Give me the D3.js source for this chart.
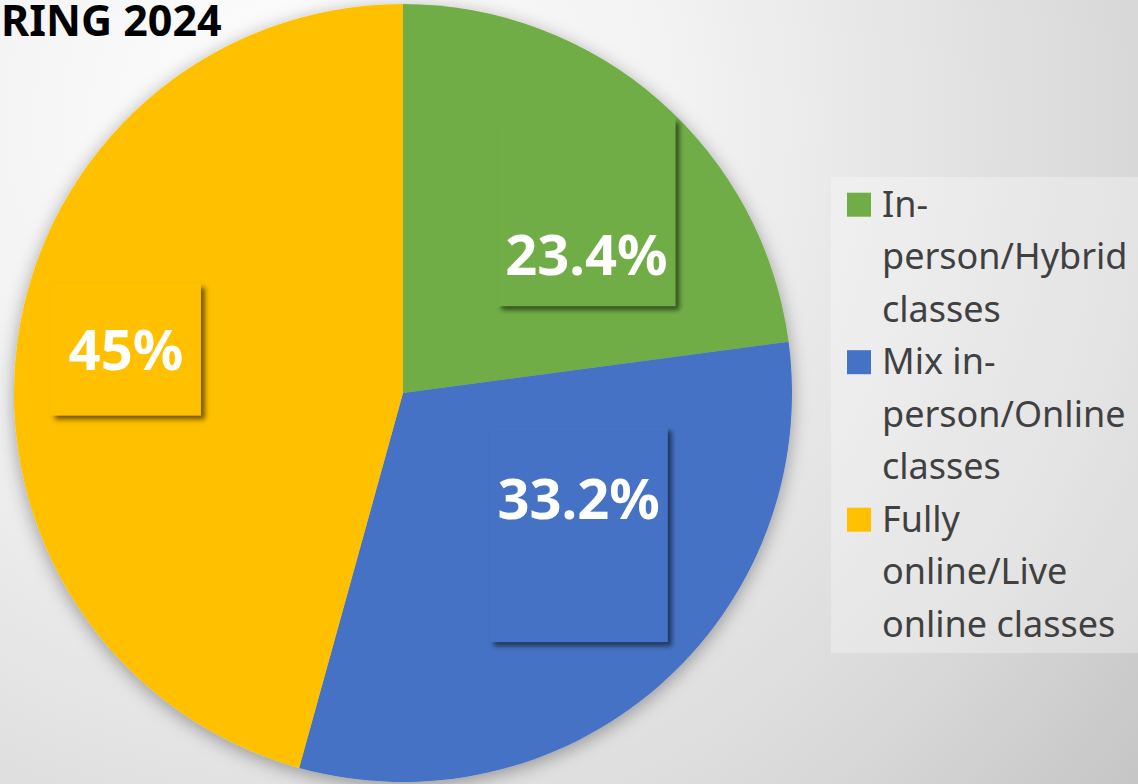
<!DOCTYPE html>
<html>
<head>
<meta charset="utf-8">
<script src="https://cdn.jsdelivr.net/npm/d3@7"></script>
<style>
  html, body { margin: 0; padding: 0; overflow: hidden; }
  svg { display: block; }
</style>
</head>
<body>
<svg id="chart" width="1138" height="784"></svg>
<script>
// data
const categories = ["In-person/Hybrid classes", "Mix in-person/Online classes", "Fully online/Live online classes"];
const legendLines = [["In-", "person/Hybrid", "classes"], ["Mix in-", "person/Online", "classes"], ["Fully", "online/Live", "online classes"]];
const sliceShares = [22.9, 31.4, 45.7];           // share of the circle measured from slice angles
const labelTexts = ["23.4%", "33.2%", "45%"];     // data labels as printed
const colors = ["#70ad47", "#4472c4", "#ffc000"];
const title = "RING 2024";                        // visible part of the title

// layout of the (hand-placed) label boxes, relative to the slice centroid
const labelLayout = [
  { dx: 9, dy: 18, w: 178, h: 188, ty: 63 },
  { dx: 2, dy: -58, w: 178, h: 215, ty: -16 },
  { dx: -15, dy: -8, w: 150, h: 132, ty: 21 }
];

const width = 1138, height = 784;
const cx = 403, cy = 393, radius = 389;

const svg = d3.select("#chart");
const defs = svg.append("defs");

const bg = defs.append("radialGradient")
  .attr("id", "bg")
  .attr("gradientUnits", "userSpaceOnUse")
  .attr("cx", 300).attr("cy", 120).attr("r", 1100);
bg.append("stop").attr("offset", 0).attr("stop-color", "#fefefe");
bg.append("stop").attr("offset", 0.35).attr("stop-color", "#f2f2f2");
bg.append("stop").attr("offset", 0.75).attr("stop-color", "#d9d9d9");
bg.append("stop").attr("offset", 1).attr("stop-color", "#c3c3c3");

const pieShadow = defs.append("filter").attr("id", "pieShadow")
  .attr("x", "-10%").attr("y", "-10%").attr("width", "120%").attr("height", "120%");
pieShadow.append("feDropShadow")
  .attr("dx", 0).attr("dy", 4).attr("stdDeviation", 9)
  .attr("flood-color", "#000").attr("flood-opacity", 0.35);

const boxShadow = defs.append("filter").attr("id", "boxShadow")
  .attr("x", "-10%").attr("y", "-10%").attr("width", "130%").attr("height", "130%");
boxShadow.append("feDropShadow")
  .attr("dx", 4).attr("dy", 4).attr("stdDeviation", 2.5)
  .attr("flood-color", "#000").attr("flood-opacity", 0.55);

svg.append("rect").attr("width", width).attr("height", height).attr("fill", "url(#bg)");

svg.append("text")
  .attr("x", 1).attr("y", 36)
  .attr("font-family", "'Noto Sans', sans-serif")
  .attr("font-weight", "bold")
  .attr("font-size", 43)
  .attr("fill", "#000")
  .text(title);

const pie = d3.pie().sort(null).value(d => d);
const arcs = pie(sliceShares);
const arc = d3.arc().innerRadius(0).outerRadius(radius);
const labelArc = d3.arc().innerRadius(radius * 0.68).outerRadius(radius * 0.68);

const g = svg.append("g").attr("transform", `translate(${cx},${cy})`);

g.append("g").attr("filter", "url(#pieShadow)")
  .selectAll("path")
  .data(arcs)
  .join("path")
  .attr("d", arc)
  .attr("fill", (d, i) => colors[i]);

const labels = g.selectAll("g.label")
  .data(arcs)
  .join("g")
  .attr("class", "label")
  .attr("transform", (d, i) => {
    const c = labelArc.centroid(d);
    return `translate(${c[0] + labelLayout[i].dx},${c[1] + labelLayout[i].dy})`;
  });

labels.append("rect")
  .attr("x", (d, i) => -labelLayout[i].w / 2)
  .attr("y", (d, i) => -labelLayout[i].h / 2)
  .attr("width", (d, i) => labelLayout[i].w)
  .attr("height", (d, i) => labelLayout[i].h)
  .attr("fill", (d, i) => colors[i])
  .attr("filter", "url(#boxShadow)");

labels.append("text")
  .attr("y", (d, i) => labelLayout[i].ty)
  .attr("text-anchor", "middle")
  .attr("font-family", "'Noto Sans', sans-serif")
  .attr("font-weight", "bold")
  .attr("font-size", 56)
  .attr("fill", "#fff")
  .text((d, i) => labelTexts[i]);

// legend
const legend = svg.append("g");
legend.append("rect")
  .attr("x", 831).attr("y", 177)
  .attr("width", width - 831).attr("height", 476)
  .attr("fill", "#fff").attr("fill-opacity", 0.3);

const lineH = 52.5;
let line = 0;
categories.forEach((c, i) => {
  const y0 = 216.7 + line * lineH;
  legend.append("rect")
    .attr("x", 847).attr("y", y0 - 24)
    .attr("width", 24).attr("height", 24)
    .attr("fill", colors[i]);
  legendLines[i].forEach((t, j) => {
    legend.append("text")
      .attr("x", 882).attr("y", y0 + j * lineH)
      .attr("font-family", "'Noto Sans', sans-serif")
      .attr("font-size", 36)
      .attr("fill", "#404040")
      .text(t);
  });
  line += legendLines[i].length;
});
</script>
</body>
</html>
